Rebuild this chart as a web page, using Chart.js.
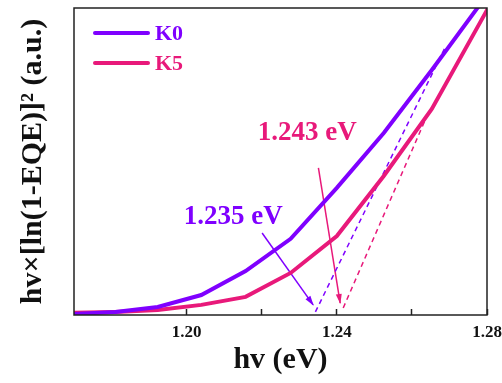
<!DOCTYPE html>
<html lang="en">
<head>
<meta charset="UTF-8">
<title>K0 / K5 absorption edge</title>
<script src="https://cdn.jsdelivr.net/npm/chart.js@4.4.1/dist/chart.umd.min.js"></script>
<style>
  html, body { margin: 0; padding: 0; background: #fff; }
</style>
</head>
<body>
<canvas id="graphCanvas" width="502" height="383"></canvas>
<script>
// photon energy (eV) of the measured points, 1240/lambda for 1060..960 nm
var hv = [1.1698, 1.1810, 1.1923, 1.2039, 1.2157, 1.2277, 1.2400, 1.2525, 1.2653, 1.2784, 1.2917];
var k0 = [0.003, 0.010, 0.026, 0.065, 0.143, 0.248, 0.414, 0.593, 0.798, 1.016, 1.24];
var k5 = [0.007, 0.010, 0.016, 0.033, 0.059, 0.137, 0.257, 0.453, 0.671, 0.958, 1.25];

// linear fits (dashed) and the arrows pointing at the intercepts
var fitK0x = [1.2343, 1.2689], fitK0y = [0.010, 0.873];
var fitK5x = [1.2417, 1.2641], fitK5y = [0.023, 0.651];
var arrowK0x = [1.2201, 1.2337], arrowK0y = [0.267, 0.033];
var arrowK5x = [1.2351, 1.2409], arrowK5y = [0.479, 0.039];

var notes = [
    { text: '1.235 eV', x: 1.2124, y: 0.319, series: 0 },
    { text: '1.243 eV', x: 1.2321, y: 0.593, series: 1 }
];

var xTicks = [1.20, 1.22, 1.24, 1.26, 1.28];
var xLabels = [1.20, 1.24, 1.28];

var PURPLE = '#7f00ff';
var PINK = '#e8197a';
var SERIF = "'Liberation Serif', 'Times New Roman', serif";

function pts(xs, ys) {
    var out = [];
    for (var i = 0; i < xs.length; i++) out.push({ x: xs[i], y: ys[i] });
    return out;
}

var extras = {
    id: 'extras',
    afterDatasetsDraw: function (chart) {
        var ctx = chart.ctx, a = chart.chartArea;
        var xs = chart.scales.x, ys = chart.scales.y;
        var colors = [PURPLE, PINK];

        // arrow heads
        chart.data.datasets.forEach(function (ds, i) {
            if (!ds.arrow) return;
            var el = chart.getDatasetMeta(i).data;
            var p0 = el[el.length - 2], p1 = el[el.length - 1];
            var ang = Math.atan2(p1.y - p0.y, p1.x - p0.x);
            ctx.save();
            ctx.fillStyle = ds.borderColor;
            ctx.translate(p1.x, p1.y);
            ctx.rotate(ang);
            ctx.beginPath();
            ctx.moveTo(1, 0);
            ctx.lineTo(-9, -3);
            ctx.lineTo(-9, 3);
            ctx.closePath();
            ctx.fill();
            ctx.restore();
        });

        // energy labels
        ctx.save();
        ctx.font = 'bold 27px ' + SERIF;
        ctx.textAlign = 'center';
        ctx.textBaseline = 'middle';
        notes.forEach(function (n) {
            ctx.fillStyle = colors[n.series];
            ctx.fillText(n.text, xs.getPixelForValue(n.x), ys.getPixelForValue(n.y));
        });
        ctx.restore();

        // frame
        ctx.save();
        ctx.strokeStyle = '#222';
        ctx.lineWidth = 1.5;
        ctx.strokeRect(a.left, a.top, a.right - a.left, a.bottom - a.top);
        ctx.restore();

        // legend (inside the plot, top left)
        ctx.save();
        ctx.font = 'bold 22px ' + SERIF;
        ctx.textBaseline = 'middle';
        ctx.lineCap = 'round';
        for (var i = 0; i < 2; i++) {
            var ds = chart.data.datasets[i];
            var y = a.top + 25 + i * 30;
            ctx.strokeStyle = ds.borderColor;
            ctx.lineWidth = 4;
            ctx.beginPath();
            ctx.moveTo(a.left + 21, y);
            ctx.lineTo(a.left + 74, y);
            ctx.stroke();
            ctx.fillStyle = ds.borderColor;
            ctx.fillText(ds.label, a.left + 81, y + 1);
        }
        ctx.restore();
    }
};

new Chart(document.getElementById('graphCanvas'), {
    type: 'scatter',
    data: {
        datasets: [
            { label: 'K0', data: pts(hv, k0), borderColor: PURPLE, borderWidth: 4 },
            { label: 'K5', data: pts(hv, k5), borderColor: PINK, borderWidth: 4 },
            { label: 'fit K0', data: pts(fitK0x, fitK0y), borderColor: PURPLE, borderWidth: 1.5, borderDash: [5, 4] },
            { label: 'fit K5', data: pts(fitK5x, fitK5y), borderColor: PINK, borderWidth: 1.5, borderDash: [5, 4] },
            { label: 'arrow K0', data: pts(arrowK0x, arrowK0y), borderColor: PURPLE, borderWidth: 1.5, arrow: true },
            { label: 'arrow K5', data: pts(arrowK5x, arrowK5y), borderColor: PINK, borderWidth: 1.5, arrow: true }
        ]
    },
    options: {
        responsive: false,
        animation: false,
        showLine: true,
        elements: { point: { radius: 0, hoverRadius: 0 }, line: { tension: 0 } },
        layout: { padding: { left: 0, right: 15, top: 8, bottom: 0 } },
        plugins: { legend: { display: false }, tooltip: { enabled: false } },
        scales: {
            x: {
                type: 'linear',
                min: 1.17,
                max: 1.28,
                afterBuildTicks: function (scale) {
                    scale.ticks = xTicks.map(function (v) { return { value: v }; });
                },
                afterFit: function (scale) {
                    scale.height = 68;
                    scale.paddingLeft = 0;
                    scale.paddingRight = 0;
                },
                border: { display: false },
                grid: { drawOnChartArea: false, tickLength: -6, tickWidth: 1.5, tickColor: '#222' },
                ticks: {
                    padding: 13,
                    color: '#111',
                    font: { family: SERIF, size: 17, weight: 'bold' },
                    callback: function (v) {
                        for (var i = 0; i < xLabels.length; i++) {
                            if (Math.abs(xLabels[i] - v) < 1e-6) return v.toFixed(2);
                        }
                        return '';
                    }
                },
                title: {
                    display: true,
                    text: 'hv (eV)',
                    color: '#111',
                    font: { family: SERIF, size: 30, weight: 'bold' },
                    padding: { top: 0, bottom: 5 }
                }
            },
            y: {
                min: 0,
                max: 1,
                afterFit: function (scale) { scale.width = 74; },
                border: { display: false },
                grid: { display: false },
                ticks: { display: false },
                title: {
                    display: true,
                    text: 'hv×[ln(1-EQE)]² (a.u.)',
                    color: '#111',
                    font: { family: SERIF, size: 30, weight: 'bold' },
                    padding: { top: 15, bottom: 0 }
                }
            }
        }
    },
    plugins: [extras]
});
</script>
</body>
</html>
